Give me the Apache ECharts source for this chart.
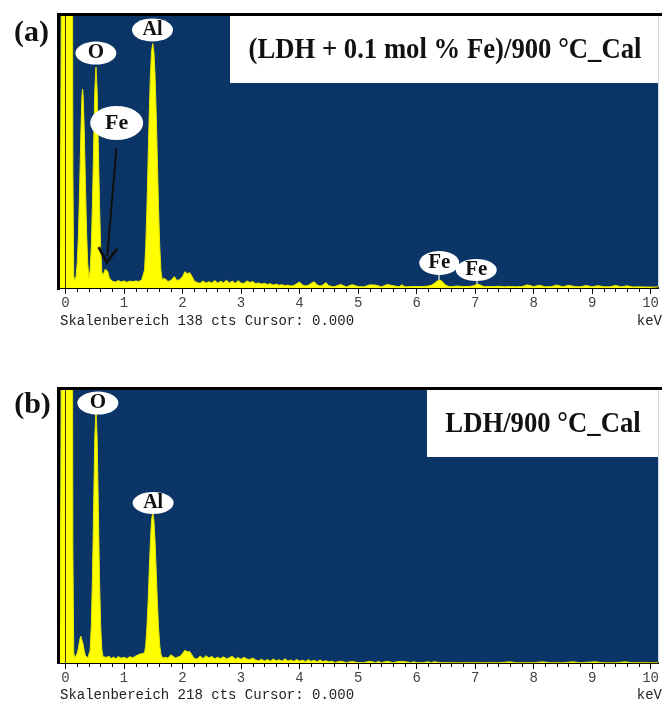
<!DOCTYPE html>
<html>
<head>
<meta charset="utf-8">
<title>EDS spectra</title>
<style>
  html, body { margin: 0; padding: 0; background: #fff; }
  #chart { width: 662px; height: 701px; }
</style>
</head>
<body>
<div id="chart"></div>
<script src="https://cdn.jsdelivr.net/npm/echarts@6.0.0/dist/echarts.min.js"></script>
<script>
// spectrum (a): [keV, counts]
const lightElementsA = [
  [-0.095, 20], [-0.08, 90], [-0.065, 200], [-0.05, 400], [0.10, 400], [0.115, 220], [0.125, 60], [0.14, 6],
  [0.16, 3.5], [0.18, 6], [0.20, 13], [0.22, 27], [0.24, 50], [0.26, 77], [0.28, 97], [0.29, 101], [0.30, 98],
  [0.32, 80], [0.34, 53], [0.36, 28], [0.38, 12], [0.40, 5], [0.42, 9], [0.44, 21], [0.46, 43], [0.48, 72],
  [0.50, 100], [0.52, 112], [0.54, 100], [0.56, 72], [0.58, 43], [0.60, 21], [0.62, 8], [0.64, 6.5],
  [0.66, 8], [0.68, 9.5], [0.70, 10], [0.72, 8.5], [0.74, 6], [0.76, 4.5], [0.78, 4], [0.80, 3.5]
];
const aluminiumA = [
  [0.85, 3.0], [0.90, 3.8], [0.95, 3.1], [1.00, 3.6], [1.05, 2.9], [1.10, 3.5], [1.15, 3.2], [1.20, 3.6], [1.25, 3.3], [1.30, 4.0],
  [1.33, 4.5], [1.35, 9], [1.37, 21], [1.39, 40], [1.41, 64], [1.43, 88], [1.45, 108], [1.47, 120], [1.49, 124],
  [1.51, 120], [1.53, 108], [1.55, 88], [1.57, 64], [1.59, 40], [1.61, 21], [1.63, 9], [1.65, 4.5],
  [1.70, 4.8], [1.75, 3.3], [1.80, 3.8], [1.86, 5.8], [1.90, 3.9], [1.95, 4.2], [2.00, 5.8], [2.04, 8.3],
  [2.08, 7.2], [2.12, 7.8], [2.16, 6.0], [2.20, 3.5]
];
const backgroundA = [
  [2.25, 2.8], [2.30, 2.4], [2.35, 3.6], [2.40, 2.5], [2.45, 3.2], [2.50, 2.6], [2.55, 3.8], [2.60, 2.5], [2.65, 3.4],
  [2.70, 2.7], [2.75, 3.9], [2.80, 2.6], [2.85, 3.5], [2.90, 2.4], [2.95, 3.7], [3.00, 2.5], [3.05, 2.3], [3.10, 3.6],
  [3.15, 2.8], [3.20, 3.3], [3.25, 2.2], [3.30, 2.6], [3.35, 2.0], [3.40, 2.4], [3.45, 1.8], [3.50, 2.2], [3.55, 1.5],
  [3.60, 2.0], [3.65, 1.4], [3.70, 1.7], [3.75, 1.2], [3.80, 1.5], [3.85, 1.0], [3.90, 1.3], [3.95, 2.2], [4.00, 3.0],
  [4.05, 1.5], [4.10, 1.1], [4.15, 1.4], [4.20, 2.4], [4.25, 3.2], [4.30, 1.6], [4.35, 1.0], [4.40, 1.5], [4.45, 2.8],
  [4.50, 1.2], [4.55, 0.8], [4.6, 0.7], [4.7, 1.8], [4.8, 0.6], [4.9, 1.7], [5.0, 0.7], [5.1, 0.6], [5.2, 1.6],
  [5.3, 1.5], [5.4, 0.6], [5.5, 1.8], [5.6, 1.2], [5.7, 0.6], [5.75, 1.6], [5.8, 0.6], [5.9, 0.7], [6.0, 0.8],
  [6.1, 0.7], [6.2, 1.0]
];
const ironKA = [
  [6.26, 1.5], [6.30, 2.3], [6.34, 3.3], [6.38, 4.0], [6.42, 3.8], [6.46, 2.6], [6.50, 1.4], [6.55, 0.8],
  [6.6, 0.7], [6.7, 1.0], [6.8, 0.7], [6.9, 0.8], [6.98, 1.2], [7.04, 2.0], [7.08, 1.6], [7.15, 0.7],
  [7.3, 0.7], [7.4, 0.9], [7.5, 0.6], [7.6, 0.8], [7.7, 0.6], [7.8, 0.7], [7.9, 1.6], [8.0, 0.7], [8.1, 1.4],
  [8.2, 0.6], [8.3, 0.7], [8.4, 1.5], [8.5, 0.6], [8.6, 1.4], [8.7, 0.7], [8.8, 0.6], [8.9, 1.3], [9.0, 0.6],
  [9.1, 1.2], [9.2, 0.6], [9.3, 0.6], [9.4, 1.3], [9.5, 0.6], [9.6, 1.1], [9.7, 0.5], [9.8, 0.6], [9.9, 0.5],
  [10.0, 0.5], [10.13, 0.5]
];

// spectrum (b): [keV, counts]
const lightElementsB = [
  [-0.095, 30], [-0.08, 150], [-0.065, 350], [-0.05, 600], [0.10, 600], [0.115, 350], [0.125, 90], [0.14, 8],
  [0.16, 4], [0.18, 5], [0.20, 8], [0.22, 12], [0.24, 18], [0.26, 21.5], [0.28, 21], [0.30, 15], [0.32, 9.5],
  [0.34, 6], [0.36, 4.5], [0.38, 4], [0.40, 4.5], [0.42, 10], [0.44, 30], [0.46, 68], [0.48, 124], [0.50, 180],
  [0.52, 202], [0.54, 180], [0.56, 124], [0.58, 68], [0.60, 30], [0.62, 11], [0.64, 5], [0.66, 3.8]
];
const aluminiumB = [
  [0.70, 4.5], [0.74, 5.5], [0.78, 3.6], [0.82, 4.8], [0.86, 3.4], [0.90, 5.2], [0.95, 3.8], [1.00, 4.6],
  [1.05, 3.5], [1.10, 5.0], [1.15, 4.2], [1.20, 5.6], [1.25, 6.8], [1.30, 7.5],
  [1.33, 6.5], [1.35, 8], [1.37, 14], [1.39, 28], [1.41, 48], [1.43, 73], [1.45, 97], [1.47, 114], [1.49, 120],
  [1.51, 114], [1.53, 97], [1.55, 73], [1.57, 48], [1.59, 28], [1.61, 14], [1.63, 7], [1.66, 3.8],
  [1.70, 4.6], [1.75, 4.0], [1.80, 6.6], [1.84, 5.2], [1.88, 4.0], [1.92, 4.8], [1.96, 5.4], [2.00, 7.6],
  [2.04, 10.2], [2.08, 9.0], [2.12, 9.2], [2.16, 6.5], [2.20, 3.6]
];
const backgroundB = [
  [2.25, 3.2], [2.30, 5.5], [2.35, 3.6], [2.40, 5.8], [2.45, 4.0], [2.50, 5.2], [2.55, 3.4], [2.60, 4.6], [2.65, 3.5],
  [2.70, 5.0], [2.75, 3.3], [2.80, 4.2], [2.85, 5.4], [2.90, 3.2], [2.95, 4.4], [3.00, 3.0], [3.05, 4.6], [3.10, 3.2],
  [3.15, 2.8], [3.20, 4.0], [3.25, 2.4], [3.30, 1.8], [3.35, 3.0], [3.40, 1.6], [3.45, 2.8], [3.50, 1.5], [3.55, 3.2],
  [3.60, 1.7], [3.65, 2.6], [3.70, 1.4], [3.75, 3.4], [3.80, 1.6], [3.85, 2.4], [3.90, 1.3], [3.95, 2.8], [4.00, 1.5],
  [4.05, 2.2], [4.10, 1.2], [4.15, 2.6], [4.20, 1.3], [4.25, 2.2], [4.30, 1.0], [4.35, 2.4], [4.40, 1.1], [4.45, 1.8],
  [4.50, 0.8], [4.55, 1.5], [4.6, 0.4], [4.7, 1.4], [4.8, 0.4], [4.9, 1.2], [5.0, 0.3], [5.1, 0.4], [5.2, 1.3],
  [5.3, 0.4], [5.35, 1.2], [5.4, 0.3], [5.5, 1.3], [5.6, 0.3], [5.7, 1.2], [5.8, 1.0], [5.9, 0.3], [5.95, 1.0],
  [6.0, 0.3], [6.1, 0.3], [6.2, 0.9], [6.25, 0.3], [6.3, 1.0], [6.4, 0.3], [6.6, 0.2], [6.8, 0.2], [7.0, 0.2],
  [7.2, 0.2], [7.4, 0.2], [7.6, 0.9], [7.7, 0.2], [8.0, 0.2], [8.15, 0.9], [8.3, 0.2], [8.5, 0.2], [8.67, 0.9],
  [8.8, 0.2], [9.05, 0.9], [9.2, 0.2], [9.4, 0.2], [9.56, 0.9], [9.7, 0.2], [10.0, 0.2], [10.13, 0.2]
];

const tickLabels = ['0', '1', '2', '3', '4', '5', '6', '7', '8', '9', '10'];
const fullScaleA = 138;
const fullScaleB = 218;
const titleA = '(LDH + 0.1 mol % Fe)/900 °C_Cal';
const titleB = 'LDH/900 °C_Cal';
const footerA = 'Skalenbereich 138 cts Cursor: 0.000';
const footerB = 'Skalenbereich 218 cts Cursor: 0.000';

const spectrumA = lightElementsA.concat(aluminiumA, backgroundA, ironKA);
const spectrumB = lightElementsB.concat(aluminiumB, backgroundB);

const majorTicks = tickLabels.map(Number);
const minorTicks = [];
for (let i = 0; i <= 50; i++) minorTicks.push(+(i * 0.2).toFixed(1));

const BLUE = '#0b3566';
const YELLOW = '#ffff00';
const SERIF = '"Liberation Serif", "Times New Roman", serif';
const MONO = '"Liberation Mono", "Courier New", monospace';
const ARROW = 'path://M10,0 L20,17 L17.6,18.6 L10,5.6 L2.4,18.6 L0,17 Z';

function xAxes(gridIndex) {
  const base = { type: 'value', gridIndex, min: -0.095, max: 10.13, position: 'bottom', splitLine: { show: false } };
  return [
    Object.assign({}, base, {
      axisLine: { show: true, onZero: false, lineStyle: { color: '#000', width: 2 } },
      axisTick: { show: true, customValues: minorTicks, length: 4, lineStyle: { color: '#000', width: 1 } },
      axisLabel: { show: false }
    }),
    Object.assign({}, base, {
      axisLine: { show: false, onZero: false },
      axisTick: { show: true, customValues: majorTicks, length: 6, lineStyle: { color: '#000', width: 1 } },
      axisLabel: { show: true, customValues: majorTicks, fontFamily: MONO, fontSize: 14, color: '#444', margin: 8 }
    })
  ];
}

function peakLabel(name, coord, size, fontSize) {
  return {
    name, coord, symbol: 'circle', symbolSize: size,
    itemStyle: { color: '#fff' },
    label: { show: true, position: 'inside', formatter: '{b}', color: '#111', fontFamily: SERIF, fontWeight: 'bold', fontSize }
  };
}

// short grey pointer between a label and its peak
function stem(from, to) {
  return [
    { coord: from, symbol: 'none', lineStyle: { color: '#9aa8bc', width: 2 } },
    { coord: to, symbol: 'none', lineStyle: { color: '#9aa8bc', width: 2 } }
  ];
}

function spectrumSeries(data, xAxisIndex, yAxisIndex, labels, extraLines) {
  return {
    type: 'line', xAxisIndex, yAxisIndex, data,
    symbol: 'none', silent: true, clip: true,
    lineStyle: { color: '#e6e600', width: 1 },
    areaStyle: { color: YELLOW, opacity: 1 },
    markLine: {
      silent: true, symbol: ['none', 'none'], label: { show: false },
      lineStyle: { color: '#3b3b20', width: 1, type: 'solid' },
      data: [{ xAxis: 0 }].concat(extraLines || [])
    },
    markPoint: { silent: true, data: labels }
  };
}

const chart = echarts.init(document.getElementById('chart'), null, { renderer: 'canvas' });

const option = {
  animation: false,
  backgroundColor: '#fff',
  grid: [
    { left: 60, right: 0, top: 16, height: 272, show: true, backgroundColor: BLUE, borderWidth: 0 },
    { left: 60, right: 0, top: 390, height: 273, show: true, backgroundColor: BLUE, borderWidth: 0 }
  ],
  xAxis: xAxes(0).concat(xAxes(1)),
  yAxis: [
    { type: 'value', gridIndex: 0, min: 0, max: fullScaleA, show: false },
    { type: 'value', gridIndex: 1, min: 0, max: fullScaleB, show: false }
  ],
  series: [
    spectrumSeries(spectrumA, 0, 0, [
      peakLabel('O', [0.518, 119.2], [41, 23], 21),
      peakLabel('Al', [1.486, 130.9], [41, 23], 20),
      peakLabel('Fe', [0.874, 83.7], [53, 34], 22),
      peakLabel('Fe', [6.387, 12.7], [40, 24], 21),
      peakLabel('Fe', [7.02, 9.1], [41, 22], 21)
    ], [
      [
        { coord: [0.87, 71], symbol: 'none', lineStyle: { color: '#111', width: 2 } },
        { coord: [0.713, 16.2], symbol: ARROW, symbolSize: [21, 18], lineStyle: { color: '#111', width: 2 } }
      ],
      stem([6.387, 7], [6.387, 4]),
      stem([7.02, 4], [7.02, 2])
    ]),
    spectrumSeries(spectrumB, 2, 1, [
      peakLabel('O', [0.552, 207.6], [41, 23], 21),
      peakLabel('Al', [1.497, 127.8], [41, 22], 20)
    ])
  ],
  graphic: [
    // frames
    { type: 'rect', z: 100, shape: { x: 57, y: 13, width: 605, height: 3 }, style: { fill: '#000' } },
    { type: 'rect', z: 100, shape: { x: 57, y: 13, width: 3, height: 277 }, style: { fill: '#000' } },
    { type: 'rect', z: 100, shape: { x: 57, y: 387, width: 605, height: 3 }, style: { fill: '#000' } },
    { type: 'rect', z: 100, shape: { x: 57, y: 387, width: 3, height: 277 }, style: { fill: '#000' } },
    // title boxes
    { type: 'rect', z: 100, shape: { x: 230, y: 16, width: 428, height: 67 }, style: { fill: '#fff' } },
    { type: 'rect', z: 100, shape: { x: 427, y: 390, width: 231, height: 67 }, style: { fill: '#fff' } },
    { type: 'text', z: 101, x: 445, y: 50, scaleX: 0.89,
      style: { text: titleA, font: 'bold 30px ' + SERIF, fill: '#111', align: 'center', verticalAlign: 'middle', textAlign: 'center', textVerticalAlign: 'middle' } },
    { type: 'text', z: 101, x: 543, y: 424, scaleX: 0.89,
      style: { text: titleB, font: 'bold 30px ' + SERIF, fill: '#111', align: 'center', verticalAlign: 'middle', textAlign: 'center', textVerticalAlign: 'middle' } },
    // panel letters
    { type: 'text', z: 101, x: 31.5, y: 33,
      style: { text: '(a)', font: 'bold 30px ' + SERIF, fill: '#111', align: 'center', verticalAlign: 'middle', textAlign: 'center', textVerticalAlign: 'middle' } },
    { type: 'text', z: 101, x: 32.5, y: 405,
      style: { text: '(b)', font: 'bold 30px ' + SERIF, fill: '#111', align: 'center', verticalAlign: 'middle', textAlign: 'center', textVerticalAlign: 'middle' } },
    // footers
    { type: 'text', z: 101, x: 60, y: 321,
      style: { text: footerA, font: '14px ' + MONO, fill: '#222', align: 'left', verticalAlign: 'middle', textAlign: 'left', textVerticalAlign: 'middle' } },
    { type: 'text', z: 101, x: 662, y: 321,
      style: { text: 'keV', font: '14px ' + MONO, fill: '#222', align: 'right', verticalAlign: 'middle', textAlign: 'right', textVerticalAlign: 'middle' } },
    { type: 'text', z: 101, x: 60, y: 695,
      style: { text: footerB, font: '14px ' + MONO, fill: '#222', align: 'left', verticalAlign: 'middle', textAlign: 'left', textVerticalAlign: 'middle' } },
    { type: 'text', z: 101, x: 662, y: 695,
      style: { text: 'keV', font: '14px ' + MONO, fill: '#222', align: 'right', verticalAlign: 'middle', textAlign: 'right', textVerticalAlign: 'middle' } }
  ]
};

chart.setOption(option);
</script>
</body>
</html>
